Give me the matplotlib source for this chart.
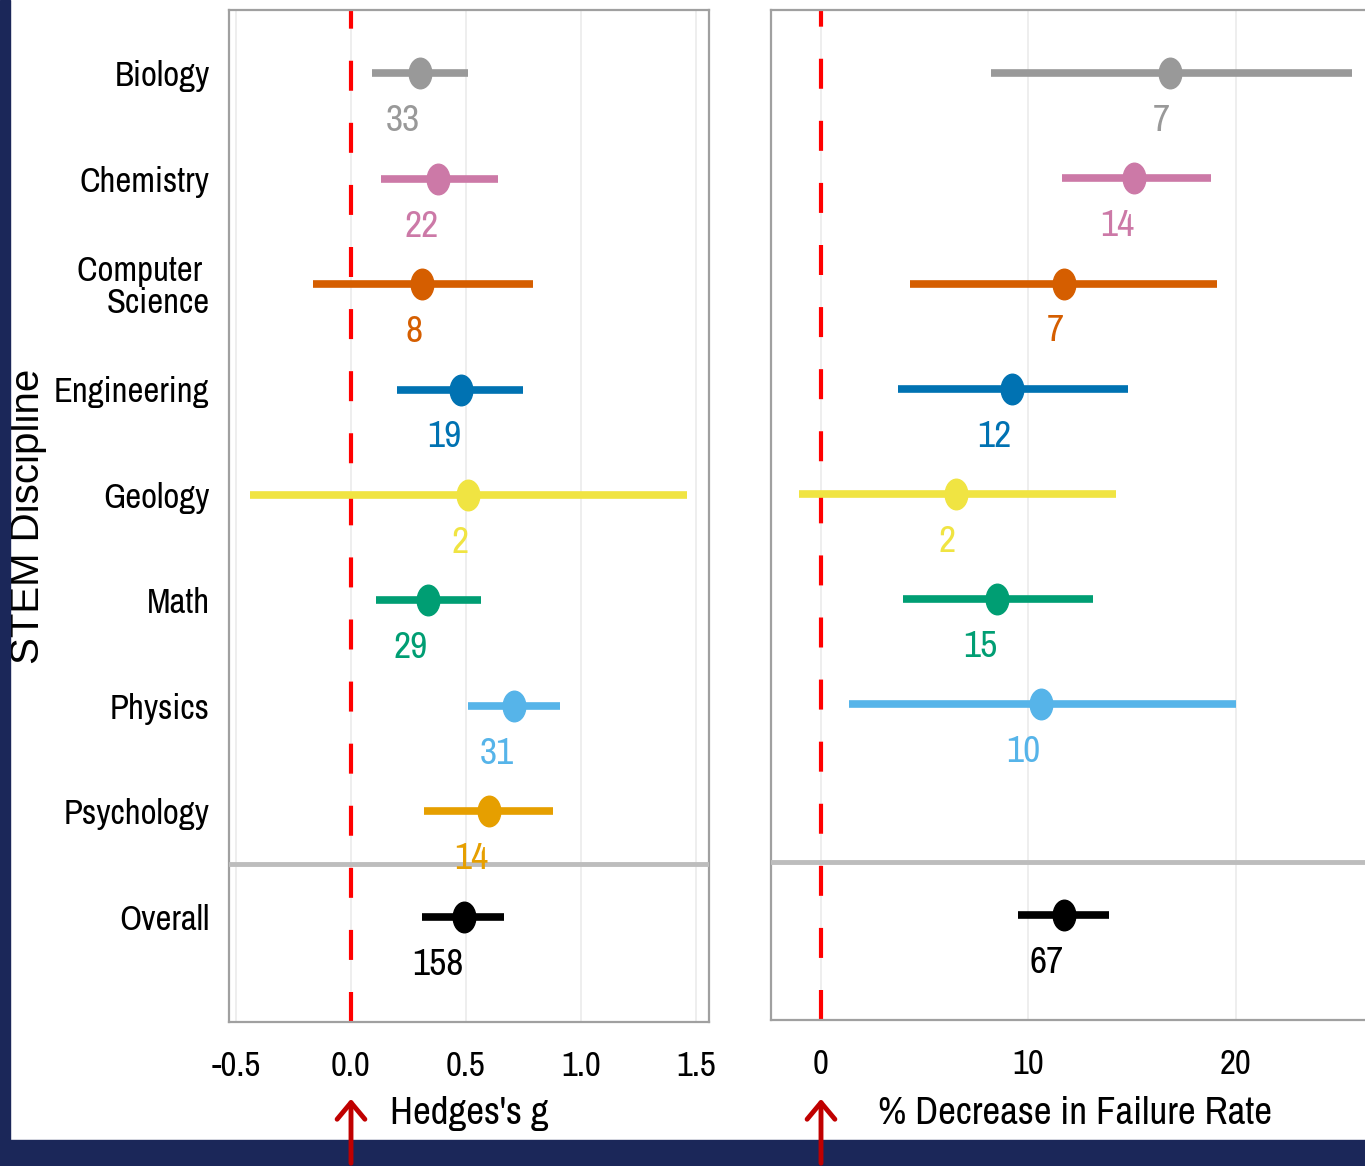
import numpy as np
import matplotlib
matplotlib.use("Agg")
import matplotlib.pyplot as plt
from matplotlib.path import Path
from matplotlib.transforms import Affine2D

# Data
disciplines = ['Biology', 'Chemistry', 'Computer \nScience', 'Engineering', 'Geology',
               'Math', 'Physics', 'Psychology', 'Overall']
colors = ['#999999', '#CC79A7', '#D55E00', '#0072B2', '#F0E442',
          '#009E73', '#56B4E9', '#E69F00', '#000000']

# Hedges's g (left panel)
g_est = [0.30, 0.38, 0.31, 0.48, 0.51, 0.335, 0.71, 0.60, 0.49]
g_lo = [0.09, 0.13, -0.165, 0.20, -0.44, 0.11, 0.51, 0.32, 0.31]
g_hi = [0.51, 0.64, 0.79, 0.75, 1.46, 0.565, 0.91, 0.88, 0.665]
g_n = [33, 22, 8, 19, 2, 29, 31, 14, 158]

# % decrease in failure rate (right panel), no Psychology estimate
fr_est = [16.8, 15.1, 11.7, 9.2, 6.5, 8.5, 10.6, None, 11.7]
fr_lo = [8.2, 11.6, 4.3, 3.7, -1.05, 3.95, 1.35, None, 9.5]
fr_hi = [25.6, 18.8, 19.1, 14.8, 14.2, 13.1, 20.0, None, 13.9]
fr_n = [7, 14, 7, 12, 2, 15, 10, None, 67]

narrow = ['Archivo Narrow', 'Roboto Condensed', 'DejaVu Sans']
plt.rcParams['font.family'] = narrow

# slightly tall dot, the original picture is stretched vertically
tall_dot = Path.unit_circle().transformed(Affine2D().scale(0.74, 1.0))

fig = plt.figure(figsize=(13.65, 11.66), dpi=100)
fig.patch.set_facecolor('white')

W, H = 1365, 1166
ax1 = fig.add_axes([229 / W, 1 - 1022 / H, 480 / W, 1012 / H])
ax2 = fig.add_axes([771 / W, 1 - 1020 / H, 609 / W, 1010 / H])

ypos = np.arange(len(disciplines))


def draw_panel(ax, est, lo, hi, n):
    for i in range(len(disciplines)):
        if est[i] is None:
            continue
        ax.plot([lo[i], hi[i]], [ypos[i], ypos[i]], color=colors[i], lw=5.5,
                solid_capstyle='butt', zorder=3)
        ax.plot(est[i], ypos[i], marker=tall_dot, color=colors[i], ms=22,
                ls='none', zorder=4)
        ax.text(est[i], ypos[i] + 0.45, str(n[i]), color=colors[i], fontsize=27,
                ha='right', va='center', zorder=6)
    ax.axvline(0, color='#ff0000', lw=3, linestyle=(0, (7.2, 7.7)), zorder=2)
    ax.axhline(7.5, color='#bdbdbd', lw=3.5, zorder=5)
    ax.set_ylim(9.0, -0.6)
    ax.grid(axis='x', color='#ebebeb', lw=1.2, zorder=0)
    ax.grid(axis='y', visible=False)
    ax.set_axisbelow(True)
    for s in ax.spines.values():
        s.set_color('#a0a0a0')
        s.set_linewidth(1.6)
    ax.tick_params(axis='both', length=0, labelsize=25)
    ax.tick_params(axis='x', pad=20)


# Left panel
draw_panel(ax1, g_est, g_lo, g_hi, g_n)
ax1.set_xlim(-0.53, 1.557)
ax1.set_xticks([-0.5, 0.0, 0.5, 1.0, 1.5])
ax1.set_xticklabels(['-0.5', '0.0', '0.5', '1.0', '1.5'])
ax1.set_yticks(ypos)
ax1.set_yticklabels(disciplines, fontsize=25, multialignment='right', linespacing=1.0)
ax1.tick_params(axis='y', pad=14)
ax1.set_xlabel("Hedges's g", fontsize=28, labelpad=10)
ax1.set_ylabel('STEM Discipline', fontsize=29, family=['Liberation Sans', 'DejaVu Sans'])
ax1.yaxis.set_label_coords(-0.38, 0.5)

# Right panel
draw_panel(ax2, fr_est, fr_lo, fr_hi, fr_n)
ax2.set_xlim(-2.4, 26.94)
ax2.set_xticks([0, 10, 20])
ax2.set_yticks(ypos)
ax2.set_yticklabels([])
ax2.set_xlabel('% Decrease in Failure Rate', fontsize=28, labelpad=12)

# Navy frame strips
fig.patches.append(plt.Rectangle((0, 0), 10 / W, 1, transform=fig.transFigure,
                                 color='#1b2759', zorder=0))
fig.patches.append(plt.Rectangle((0, 0), 1, 26 / H, transform=fig.transFigure,
                                 color='#1b2759', zorder=0))

# Red arrows pointing at zero lines
for xa in [351 / W, 821 / W]:
    fig.add_artist(matplotlib.patches.FancyArrowPatch(
        (xa, 0), (xa, 1 - 1096 / H), transform=fig.transFigure,
        arrowstyle='->,head_length=6,head_width=5', color='#c00000', lw=3.5,
        mutation_scale=2, zorder=10))

plt.savefig('out.png', dpi=100)
